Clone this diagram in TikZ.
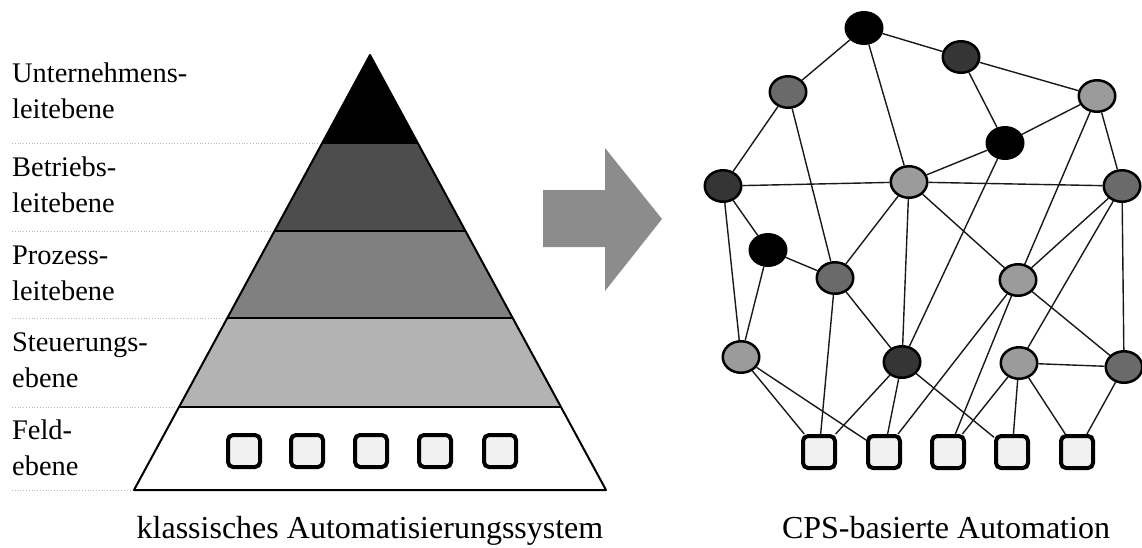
\documentclass[tikz,border=0pt]{standalone}
\usepackage{fontspec}
\setmainfont{Liberation Serif}
\usetikzlibrary{shapes.geometric,backgrounds}

\definecolor{lvA}{HTML}{000000}
\definecolor{lvB}{HTML}{4D4D4D}
\definecolor{lvC}{HTML}{808080}
\definecolor{lvD}{HTML}{B3B3B3}
\definecolor{ndDark}{HTML}{353535}
\definecolor{ndMid}{HTML}{6A6A6A}
\definecolor{ndLight}{HTML}{9B9B9B}
\definecolor{devFill}{HTML}{F0F0F0}
\definecolor{arrowGray}{HTML}{8C8C8C}
\definecolor{sepGray}{HTML}{B8B8B8}

\tikzset{
  x=1pt, y=-1pt,
  level/.style={draw=black, line width=2pt, line join=round},
  sep/.style={draw=sepGray, line width=0.8pt, dotted},
  % anchored at the baseline of the last line
  lbl/.style={anchor=base west, align=left, inner sep=0pt,
    font=\fontsize{28.4}{36}\selectfont},
  caption/.style={anchor=base, inner sep=0pt, font=\fontsize{32}{38}\selectfont},
  device/.style={draw=black, line width=4pt, rounded corners=5pt, fill=devFill,
    minimum size=32pt, inner sep=0pt},
  cps/.style={ellipse, draw=black, line width=2.5pt, minimum width=36.5pt,
    minimum height=31.5pt, inner sep=0pt},
  cBlack/.style={cps, fill=black},
  cDark/.style={cps, fill=ndDark},
  cMid/.style={cps, fill=ndMid},
  cLight/.style={cps, fill=ndLight},
  link/.style={draw=black!90, line width=1.4pt},
}

\begin{document}
\begin{tikzpicture}
\useasboundingbox (0,0) rectangle (1142,547);

% ---- automation pyramid ----
\fill[lvA] (370,55) -- (417.7,143) -- (322.3,143) -- cycle;
\fill[lvB] (322.3,143) -- (417.7,143) -- (465.5,231) -- (274.5,231) -- cycle;
\fill[lvC] (274.5,231) -- (465.5,231) -- (512.7,318) -- (227.3,318) -- cycle;
\fill[lvD] (227.3,318) -- (512.7,318) -- (561,407) -- (179,407) -- cycle;
\fill[white] (179,407) -- (561,407) -- (606,490) -- (134,490) -- cycle;
\draw[level] (322.3,143) -- (417.7,143);
\draw[level] (274.5,231) -- (465.5,231);
\draw[level] (227.3,318) -- (512.7,318);
\draw[level] (179,407) -- (561,407);
\draw[level] (370,55) -- (606,490) -- (134,490) -- cycle;

% dotted separators of the level labels
\draw[sep] (12,143) -- (320,143);
\draw[sep] (12,231) -- (272,231);
\draw[sep] (12,318) -- (225,318);
\draw[sep] (12,407) -- (177,407);
\draw[sep] (12,490) -- (132,490);

% level labels
\node[lbl] (l1) at (12,118) {Unternehmens-\\leitebene};
\node[lbl] (l2) at (12,212) {Betriebs-\\leitebene};
\node[lbl] (l3) at (12,300) {Prozess-\\leitebene};
\node[lbl] (l4) at (12,387) {Steuerungs-\\ebene};
\node[lbl] (l5) at (12,475) {Feld-\\ebene};

% field devices in the pyramid
\foreach \i/\x in {1/244,2/307,3/371,4/435,5/500}
  \node[device] (p\i) at (\x,451) {};

\node[caption] (capL) at (370,538) {klassisches Automatisierungssystem};

% ---- transition arrow ----
\fill[arrowGray] (543,190) -- (605,190) -- (605,148) -- (662,219)
  -- (605,291) -- (605,247) -- (543,247) -- cycle;

% ---- CPS network ----
\node[cBlack] (n1)  at (864,28)  {};
\node[cDark]  (n2)  at (961,57)  {};
\node[cMid]   (n3)  at (788,92)  {};
\node[cLight] (n4)  at (1097,96) {};
\node[cBlack] (n5)  at (1005,143) {};
\node[cLight] (n6)  at (909,182) {};
\node[cDark]  (n7)  at (723,186) {};
\node[cMid]   (n8)  at (1122,186) {};
\node[cBlack] (n9)  at (768,250) {};
\node[cMid]   (n10) at (835,278) {};
\node[cLight] (n11) at (1018,280) {};
\node[cLight] (n12) at (741,357) {};
\node[cDark]  (n13) at (902,362) {};
\node[cLight] (n14) at (1019,363) {};
\node[cMid]   (n15) at (1124,367) {};

\foreach \i/\x in {1/819,2/884,3/948,4/1012,5/1077}
  \node[device] (s\i) at (\x,452) {};

\begin{scope}[on background layer]
  \foreach \a/\b in {n1/n3,n1/n2,n1/n6,n2/n4,n2/n5,n3/n7,n3/n10,n4/n5,
      n4/n11,n4/n8,n5/n6,n5/n13,n6/n7,n6/n8,n6/n10,n6/n13,n6/n11,
      n7/n9,n7/n12,n8/n11,n8/n14,n8/n15,n9/n10,n9/n12,n10/n13,
      n11/n15,n14/n15,
      n10/s1,n12/s1,n13/s1,n11/s2,n12/s2,n13/s2,n11/s3,n14/s3,
      n13/s4,n14/s4,n14/s5,n15/s5}
    \draw[link] (\a) -- (\b);
\end{scope}

\node[caption] (capR) at (946,538) {CPS-basierte Automation};
\end{tikzpicture}
\end{document}
